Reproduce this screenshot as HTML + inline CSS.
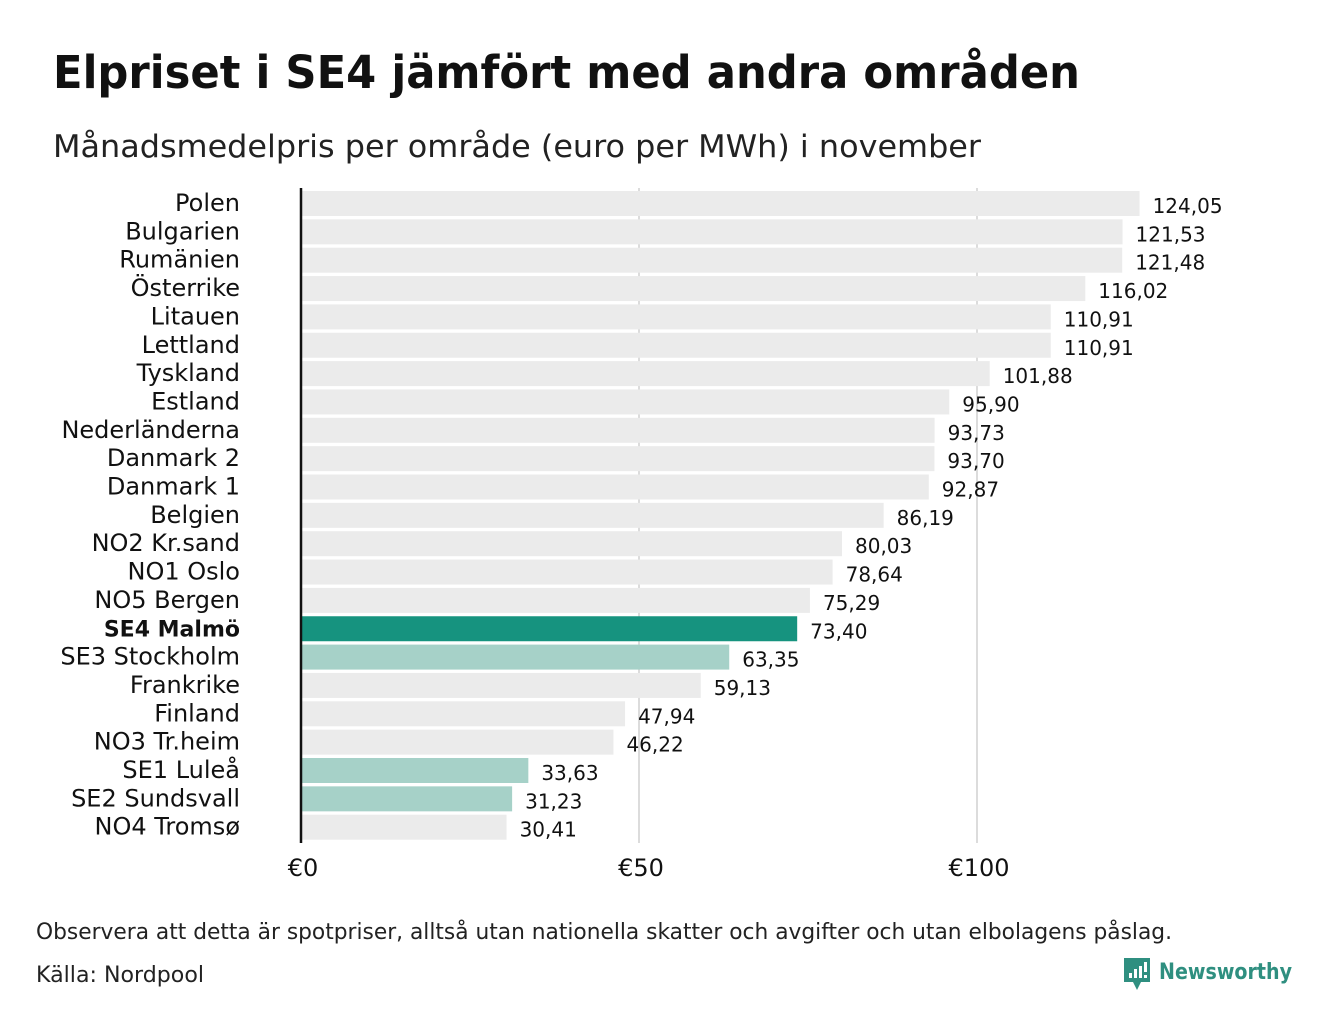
<!DOCTYPE html>
<html><head><meta charset="utf-8"><style>
body{margin:0;background:#fff;width:1340px;height:1020px;overflow:hidden;font-family:"DejaVu Sans","Liberation Sans",sans-serif;}
svg text{font-family:"DejaVu Sans","Liberation Sans",sans-serif;}
</style></head><body>
<svg id="chart" width="1340" height="1020" xmlns="http://www.w3.org/2000/svg">
<text x="53" y="88" font-size="45" font-weight="bold" fill="#111" textLength="1027" lengthAdjust="spacingAndGlyphs">Elpriset i SE4 jämfört med andra områden</text>
<text x="53" y="157" font-size="31" fill="#222" textLength="928" lengthAdjust="spacingAndGlyphs">Månadsmedelpris per område (euro per MWh) i november</text>
<g id="grid"></g>
<g id="bars"></g>
<g id="labels"></g>
<g id="values"></g>
<g id="ticks"></g>
<line x1="301" x2="301" y1="188" y2="843" stroke="#111" stroke-width="2.5"/>
<text x="36" y="939" font-size="22" fill="#222" textLength="1136" lengthAdjust="spacingAndGlyphs">Observera att detta är spotpriser, alltså utan nationella skatter och avgifter och utan elbolagens påslag.</text>
<text x="36" y="982" font-size="22" fill="#222" textLength="168" lengthAdjust="spacingAndGlyphs">Källa: Nordpool</text>
<g>
<path d="M1124 958 h26 v24 h-9 l-4 8 l-4 -8 h-9 z" fill="#2f8f80"/>
<rect x="1129" y="973" width="3" height="5" fill="#fff"/><rect x="1134" y="969" width="3" height="9" fill="#fff"/><rect x="1139" y="966" width="3" height="12" fill="#fff"/><rect x="1144" y="962" width="3" height="10" fill="#fff"/><rect x="1144" y="975" width="3" height="3" fill="#fff"/>
<text x="1159" y="979" font-size="22" font-weight="bold" fill="#2f8f80" textLength="133" lengthAdjust="spacingAndGlyphs">Newsworthy</text>
</g>
</svg>
<script>
const categories=["Polen","Bulgarien","Rumänien","Österrike","Litauen","Lettland","Tyskland","Estland","Nederländerna","Danmark  2","Danmark  1","Belgien","NO2 Kr.sand","NO1 Oslo","NO5 Bergen","SE4 Malmö","SE3  Stockholm","Frankrike","Finland","NO3 Tr.heim","SE1  Luleå","SE2  Sundsvall","NO4 Tromsø"];
const values=[124.05,121.53,121.48,116.02,110.91,110.91,101.88,95.90,93.73,93.70,92.87,86.19,80.03,78.64,75.29,73.40,63.35,59.13,47.94,46.22,33.63,31.23,30.41];
const highlight=["SE4 Malmö"];
const swedish=["SE3  Stockholm","SE1  Luleå","SE2  Sundsvall"];
const tickValues=[0,50,100];
const tickLabels=["€0","€50","€100"];
const NS="http://www.w3.org/2000/svg";
const x=v=>301+v*6.76;
const y=i=>191+i*28.35;
function mk(tag,attrs,parent){const e=document.createElementNS(NS,tag);for(const k in attrs)e.setAttribute(k,attrs[k]);document.getElementById(parent).appendChild(e);return e;}
tickValues.forEach((t,i)=>{
  if(t>0){const g=mk('line',{x1:x(t),x2:x(t),y1:188,y2:843,stroke:'#d0d0d0','stroke-width':1.5},'grid');
  
  }
  const tl=mk('text',{x:x(t)+2,y:876,'font-size':24,'text-anchor':'middle',fill:'#111'},'ticks');
  tl.textContent=tickLabels[i];
  
  
});
categories.forEach((c,i)=>{
  const fill=highlight.includes(c)?'#16937f':swedish.includes(c)?'#a6d1c8':'#ebebeb';
  const r=mk('rect',{x:302,y:y(i),width:x(values[i])-302,height:25,fill:fill},'bars');
  
  
  const l=mk('text',{x:240,y:y(i)+20,'font-size':highlight.includes(c)?22:24,'text-anchor':'end',fill:'#111','font-weight':highlight.includes(c)?'bold':'normal','xml:space':'preserve'},'labels');
  l.textContent=c;
  
  
  const v=mk('text',{x:x(values[i])+13,y:y(i)+22,'font-size':20,fill:'#111'},'values');
  v.textContent=values[i].toFixed(2).replace('.',',');
  
  
});
</script>
</body></html>
